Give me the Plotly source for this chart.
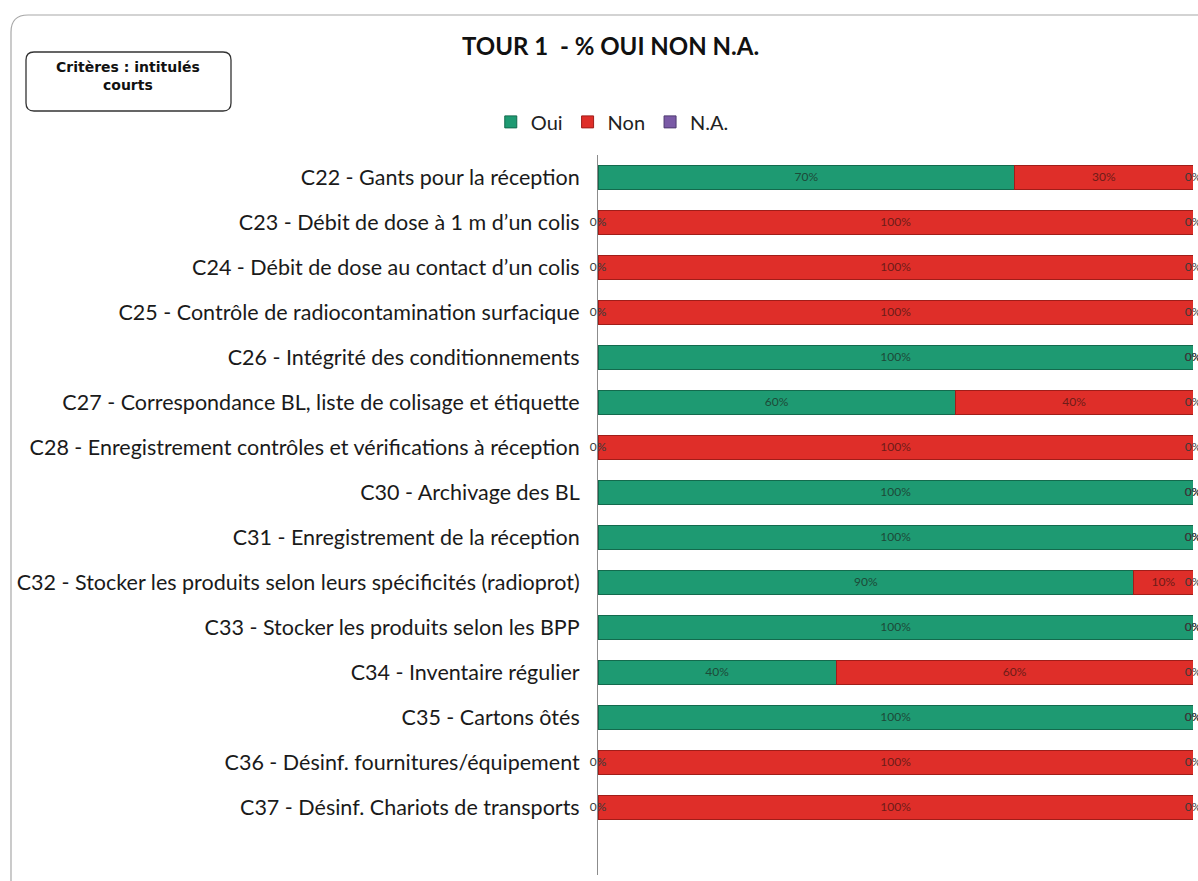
import plotly.graph_objects as go

categories = [
    "C22 - Gants pour la réception",
    "C23 - Débit de dose à 1 m d’un colis",
    "C24 - Débit de dose au contact d’un colis",
    "C25 - Contrôle de radiocontamination surfacique",
    "C26 - Intégrité des conditionnements",
    "C27 - Correspondance BL, liste de colisage et étiquette",
    "C28 - Enregistrement contrôles et vérifications à réception",
    "C30 - Archivage des BL",
    "C31 - Enregistrement de la réception",
    "C32 - Stocker les produits selon leurs spécificités (radioprot)",
    "C33 - Stocker les produits selon les BPP",
    "C34 - Inventaire régulier",
    "C35 - Cartons ôtés",
    "C36 - Désinf. fournitures/équipement",
    "C37 - Désinf. Chariots de transports",
]
oui = [70, 0, 0, 0, 100, 60, 0, 100, 100, 90, 100, 40, 100, 0, 0]
non = [30, 100, 100, 100, 0, 40, 100, 0, 0, 10, 0, 60, 0, 100, 100]
na = [0] * 15

series = [("Oui", oui, "#1E9A72", "#136a4d", "#1d4a38"),
          ("Non", non, "#DF2E29", "#a01d19", "#6e1c18"),
          ("N.A.", na, "#7A5AA6", "#4e3a70", "#3a2a55")]

FONT = "Lato"
fig = go.Figure()
for name, vals, col, lcol, tcol in series:
    fig.add_trace(go.Bar(
        name=name, y=categories, x=vals, orientation="h",
        marker=dict(color=col, line=dict(color=lcol, width=1)),
        width=0.52, hoverinfo="skip",
    ))

# data labels at segment centres
start = [0] * 15
for name, vals, col, lcol, tcol in series:
    xs = [s + v / 2 for s, v in zip(start, vals)]
    colors = [tcol if v > 0 else "#3a3a3a" for v in vals]
    fig.add_trace(go.Scatter(
        x=xs, y=categories, mode="text", text=[f"{v}%" for v in vals],
        textfont=dict(family=FONT, size=12, color=colors),
        showlegend=False, hoverinfo="skip", cliponaxis=False,
    ))
    start = [s + v for s, v in zip(start, vals)]

fig.update_layout(
    width=1198, height=881,
    barmode="stack",
    paper_bgcolor="white", plot_bgcolor="white",
    margin=dict(l=598, r=5, t=155, b=6),
    font=dict(family=FONT, color="#1a1a1a"),
    showlegend=True,
    legend=dict(orientation="h", x=0.024, xanchor="center", y=1.046, yanchor="middle",
                font=dict(family=FONT, size=20, color="#222"), itemwidth=30,
                traceorder="normal", bgcolor="rgba(0,0,0,0)"),
    xaxis=dict(range=[0, 100], visible=False, fixedrange=True),
    yaxis=dict(type="category", range=[15.5, -0.5], showline=True, linecolor="#8c8c8c",
               linewidth=1, ticks="", showgrid=False, zeroline=False,
               tickfont=dict(family=FONT, size=21.5, color="#1a1a1a"),
               ticklabelstandoff=13),
)

# outer rounded frame
def px_to_paper(px, py):
    return (px - 598) / 595, (875 - py) / 720

x0, y0 = px_to_paper(11, 890)
x1, y1 = px_to_paper(11, 32)
x2, y2 = px_to_paper(28, 15)
x3, y3 = px_to_paper(1210, 15)
xc, yc = px_to_paper(11, 15)
fig.add_shape(type="path", xref="paper", yref="paper",
              path=f"M {x0} {y0} L {x1} {y1} Q {xc} {yc} {x2} {y2} L {x3} {y3}",
              line=dict(color="#a8a8a8", width=1.2))

# "Critères" box
bx0, by0, bx1, by1, r = 26, 52, 231, 111, 8
def P(px, py):
    a, b = px_to_paper(px, py)
    return f"{a} {b}"
path = (f"M {P(bx0 + r, by0)} L {P(bx1 - r, by0)} Q {P(bx1, by0)} {P(bx1, by0 + r)} "
        f"L {P(bx1, by1 - r)} Q {P(bx1, by1)} {P(bx1 - r, by1)} "
        f"L {P(bx0 + r, by1)} Q {P(bx0, by1)} {P(bx0, by1 - r)} "
        f"L {P(bx0, by0 + r)} Q {P(bx0, by0)} {P(bx0 + r, by0)} Z")
fig.add_shape(type="path", xref="paper", yref="paper", path=path,
              line=dict(color="#333333", width=1.3), fillcolor="white")
ax, ay = px_to_paper(128, 76)
fig.add_annotation(xref="paper", yref="paper", x=ax, y=ay, showarrow=False,
                   text="<b>Critères : intitulés<br>courts</b>",
                   font=dict(family="DejaVu Sans", size=14, color="#111"),
                   align="center", xanchor="center", yanchor="middle")

# title
tx, ty = px_to_paper(610, 45)
fig.add_annotation(xref="paper", yref="paper", x=tx, y=ty, showarrow=False,
                   text="<b>TOUR 1  - % OUI NON N.A.</b>",
                   font=dict(family=FONT, size=24, color="#111"),
                   xanchor="center", yanchor="middle")

fig.write_html("out.html", config={"displayModeBar": False},
               post_script="document.body.style.margin='0';document.body.style.overflow='hidden';")
